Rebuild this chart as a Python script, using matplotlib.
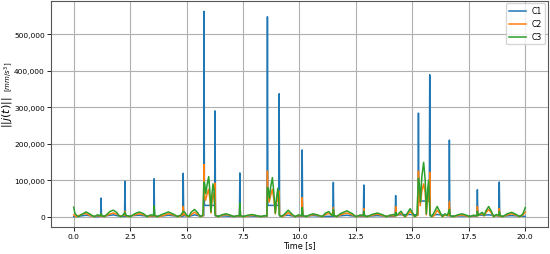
import numpy as np
import matplotlib
matplotlib.use("Agg")
import matplotlib.pyplot as plt
from matplotlib.ticker import StrMethodFormatter

# jerk norm, values in thousands of mm/s^3
c1_t = [0.00, 0.30, 0.55, 0.80, 1.00, 1.19, 1.21, 1.23, 1.50, 1.75, 2.00, 2.25, 2.27, 2.29,
        2.60, 2.90, 3.20, 3.54, 3.56, 3.58, 3.90, 4.20, 4.50, 4.83, 4.85, 4.87, 5.10, 5.35,
        5.60, 5.76, 5.77, 5.79, 6.24, 6.26, 6.28, 6.70, 7.00, 7.34, 7.36, 7.38, 7.80, 8.10,
        8.56, 8.58, 8.60, 9.08, 9.10, 9.12, 9.50, 9.80, 10.10, 10.12, 10.14, 10.60, 11.00,
        11.48, 11.50, 11.52, 12.10, 12.50, 12.83, 12.85, 12.87, 13.45, 13.90, 14.24, 14.26,
        14.28, 14.90, 15.25, 15.27, 15.29, 15.75, 15.77, 15.79, 16.10, 16.62, 16.64, 16.66,
        17.20, 17.86, 17.88, 17.90, 18.40, 18.83, 18.85, 18.87, 19.40, 20.00]
c1_v = [0, 2, 4, 2, 0, 1, 51, 1, 3, 5, 2, 1, 97, 1,
        3, 4, 2, 1, 104, 1, 2, 4, 2, 1, 119, 3, 1, 5,
        2, 3, 563, 31, 31, 290, 2, 2, 1, 1, 120, 1, 2, 1,
        1, 548, 31, 31, 337, 2, 4, 1, 1, 183, 1, 3, 1,
        1, 94, 1, 4, 1, 1, 87, 1, 3, 1, 1, 58,
        5, 6, 5, 284, 43, 43, 389, 3, 6, 3, 210, 2,
        2, 1, 74, 4, 5, 2, 95, 1, 3, 1]

c2_t = [0.00, 0.10, 0.30, 0.50, 0.70, 0.90, 1.05, 1.19, 1.21, 1.24, 1.35, 1.55, 1.75, 1.95,
        2.10, 2.20, 2.25, 2.27, 2.30, 2.45, 2.70, 2.90, 3.10, 3.30, 3.45, 3.54, 3.56, 3.59,
        3.75, 4.00, 4.20, 4.45, 4.65, 4.80, 4.83, 4.85, 4.88, 5.00, 5.10, 5.25, 5.35, 5.50,
        5.60, 5.74, 5.77, 5.79, 5.84, 5.90, 5.97, 6.03, 6.08, 6.13, 6.18, 6.24, 6.26, 6.28,
        6.40, 6.60, 6.75, 6.95, 7.10, 7.25, 7.34, 7.36, 7.39, 7.55, 7.75, 7.95, 8.15, 8.30,
        8.45, 8.56, 8.58, 8.60, 8.66, 8.73, 8.80, 8.86, 8.93, 8.99, 9.04, 9.08, 9.10, 9.12,
        9.25, 9.40, 9.50, 9.65, 9.80, 9.95, 10.10, 10.12, 10.15, 10.30, 10.50, 10.65, 10.85,
        11.00, 11.15, 11.30, 11.45, 11.50, 11.53, 11.65, 11.85, 12.10, 12.35, 12.50, 12.70,
        12.83, 12.85, 12.88, 13.00, 13.20, 13.45, 13.70, 13.85, 14.00, 14.24, 14.26, 14.29,
        14.40, 14.50, 14.60, 14.70, 14.80, 14.90, 15.00, 15.10, 15.20, 15.25, 15.27, 15.30,
        15.35, 15.42, 15.50, 15.57, 15.62, 15.67, 15.72, 15.75, 15.77, 15.79, 15.90, 16.00,
        16.10, 16.25, 16.35, 16.45, 16.60, 16.64, 16.67, 16.80, 17.00, 17.20, 17.40, 17.55,
        17.70, 17.86, 17.88, 17.91, 18.00, 18.10, 18.18, 18.25, 18.38, 18.50, 18.60, 18.72,
        18.83, 18.85, 18.88, 19.00, 19.20, 19.40, 19.60, 19.75, 19.90, 20.00]
c2_v = [5, 0, 5, 9, 4, 0, 3, 2, 8, 2, 0, 6, 10, 6,
        0, 4, 5, 15, 3, 0, 5, 8, 5, 0, 3, 2, 10, 2,
        0, 4, 8, 4, 0, 4, 4, 28, 8, 2, 0, 8, 12, 6,
        0, 3, 143, 60, 45, 60, 75, 50, 10, 45, 65, 40, 92, 3,
        0, 4, 6, 3, 0, 2, 2, 35, 2, 0, 3, 4, 2, 0,
        2, 2, 125, 60, 40, 60, 75, 50, 8, 40, 55, 40, 70, 3,
        0, 6, 11, 5, 0, 3, 2, 52, 3, 0, 4, 6, 3,
        0, 6, 9, 3, 25, 3, 0, 6, 10, 5, 0, 3,
        2, 22, 3, 0, 4, 7, 3, 0, 3, 2, 28, 3,
        6, 10, 3, 0, 7, 15, 8, 0, 3, 5, 125, 60,
        30, 70, 90, 65, 5, 50, 70, 40, 122, 4, 0, 6,
        18, 6, 0, 5, 3, 42, 3, 0, 3, 5, 2, 0,
        3, 2, 28, 3, 6, 8, 2, 10, 20, 10, 0, 4,
        2, 22, 2, 0, 5, 8, 4, 0, 5, 12]

c3_t = [0.00, 0.05, 0.12, 0.20, 0.35, 0.55, 0.75, 0.90, 1.05, 1.18, 1.21, 1.25, 1.35, 1.50,
        1.60, 1.75, 1.90, 2.00, 2.10, 2.20, 2.27, 2.31, 2.40, 2.50, 2.70, 2.90, 3.10, 3.25,
        3.40, 3.54, 3.56, 3.59, 3.70, 3.90, 4.20, 4.45, 4.60, 4.75, 4.85, 4.92, 5.00, 5.10,
        5.20, 5.35, 5.50, 5.60, 5.72, 5.77, 5.80, 5.85, 5.90, 5.98, 6.03, 6.08, 6.12, 6.17,
        6.22, 6.26, 6.30, 6.40, 6.55, 6.75, 6.95, 7.10, 7.25, 7.34, 7.36, 7.39, 7.50, 7.70,
        7.90, 8.10, 8.30, 8.45, 8.56, 8.58, 8.62, 8.67, 8.72, 8.80, 8.86, 8.93, 8.98, 9.04,
        9.08, 9.10, 9.20, 9.35, 9.50, 9.65, 9.80, 9.95, 10.10, 10.12, 10.16, 10.30, 10.45,
        10.60, 10.80, 11.00, 11.15, 11.30, 11.42, 11.48, 11.50, 11.54, 11.65, 11.80, 12.10,
        12.35, 12.50, 12.70, 12.83, 12.85, 12.89, 13.00, 13.20, 13.45, 13.70, 13.85, 14.00,
        14.15, 14.24, 14.26, 14.30, 14.38, 14.50, 14.60, 14.68, 14.80, 14.90, 15.00, 15.10,
        15.20, 15.27, 15.31, 15.36, 15.42, 15.50, 15.57, 15.62, 15.67, 15.72, 15.76, 15.78,
        15.85, 15.95, 16.10, 16.25, 16.32, 16.45, 16.55, 16.64, 16.68, 16.80, 17.00, 17.20,
        17.40, 17.55, 17.70, 17.86, 17.88, 17.92, 18.00, 18.10, 18.18, 18.25, 18.38, 18.50,
        18.60, 18.72, 18.83, 18.85, 18.90, 19.00, 19.20, 19.40, 19.60, 19.75, 19.90, 20.00]
c3_v = [26, 10, 4, 0, 6, 13, 6, 0, 5, 3, 9, 3, 0, 8,
        14, 18, 12, 3, 0, 6, 12, 4, 2, 0, 8, 13, 8, 0,
        5, 4, 30, 3, 0, 6, 13, 6, 0, 5, 15, 12, 5, 0,
        12, 20, 10, 0, 4, 95, 90, 63, 85, 110, 70, 13, 60, 90,
        70, 5, 3, 0, 5, 8, 4, 0, 3, 2, 38, 3, 0, 4,
        6, 3, 0, 3, 2, 80, 75, 50, 80, 107, 70, 10, 50, 78,
        50, 5, 0, 8, 18, 8, 0, 5, 3, 25, 3, 0, 5,
        8, 5, 0, 10, 14, 5, 3, 20, 3, 0, 8, 16,
        8, 0, 5, 3, 15, 3, 0, 6, 10, 5, 0, 4,
        6, 3, 12, 3, 8, 15, 5, 0, 12, 22, 12, 0,
        5, 105, 90, 40, 110, 149, 100, 8, 70, 100, 40, 5,
        0, 10, 28, 10, 0, 8, 3, 20, 3, 0, 5, 8,
        4, 0, 4, 3, 15, 3, 8, 12, 3, 15, 28, 15,
        0, 6, 3, 15, 3, 0, 8, 12, 6, 0, 8, 25]

labels = ["C1", "C2", "C3"]

fig = plt.figure(figsize=(5.5, 2.55), dpi=100)
ax = fig.add_axes([0.093, 0.106, 0.903, 0.886])

for t, v, lab in [(c1_t, c1_v, labels[0]), (c2_t, c2_v, labels[1]), (c3_t, c3_v, labels[2])]:
    ax.plot(t, np.array(v) * 1000, label=lab, linewidth=1.1)

ax.grid(True, color="#b0b0b0", linewidth=0.8)
ax.yaxis.set_major_formatter(StrMethodFormatter("{x:,.0f}"))
ax.set_xticks([0, 2.5, 5, 7.5, 10, 12.5, 15, 17.5, 20])
ax.tick_params(labelsize=5.4, length=3, width=0.6, pad=1.5)
for s in ax.spines.values():
    s.set_linewidth(0.8)
    s.set_color("#555555")
ax.set_xlabel("Time [s]", fontsize=5.8, labelpad=0.5)
ax.legend(loc="upper right", fontsize=5.6, handlelength=2.2, borderaxespad=0.3)

# y label in two parts: the norm larger, the unit smaller above it
fig.text(0.012, 0.56, r"$||j(t)||$", rotation=90, fontsize=8, ha="center", va="center")
fig.text(0.016, 0.70, r"$[mm/s^3]$", rotation=90, fontsize=5, ha="center", va="center")

fig.savefig("out.png", dpi=100)
